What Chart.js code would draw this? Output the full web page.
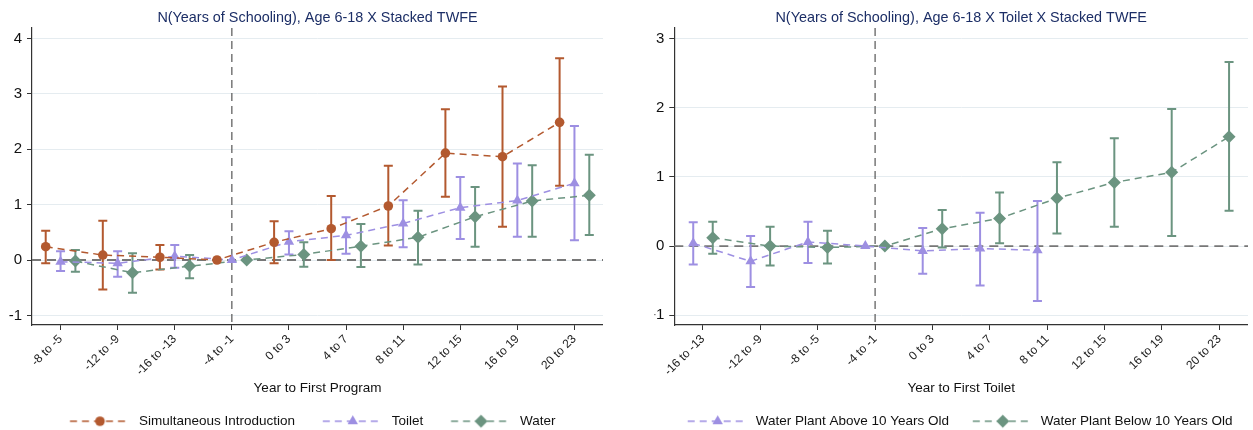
<!DOCTYPE html>
<html>
<head>
<meta charset="utf-8">
<script src="https://cdn.jsdelivr.net/npm/chart.js@4.4.1/dist/chart.umd.min.js"></script>
<style>
  html, body { margin: 0; padding: 0; background: #fff; overflow: hidden; width: 1253px; height: 430px; }
  canvas { position: absolute; top: 0; }
  #programChart { left: 0; }
  #toiletChart { left: 630px; }
</style>
</head>
<body>
<canvas id="programChart" width="603" height="438"></canvas>
<canvas id="toiletChart" width="618" height="438"></canvas>
<script>
// ---- Panel 1: event-time bins and estimates by program type ----
const programBins = ["-8 to -5", "-12 to -9", "-16 to -13", "-4 to -1", "0 to 3",
                     "4 to 7", "8 to 11", "12 to 15", "16 to 19", "20 to 23"];

const simultaneousEst  = [0.24, 0.09, 0.05, 0, 0.32, 0.565, 0.975, 1.93, 1.865, 2.485];
const simultaneousLow  = [-0.06, -0.53, -0.17, null, -0.06, 0.0, 0.26, 1.14, 0.60, 1.34];
const simultaneousHigh = [0.53, 0.71, 0.27, null, 0.70, 1.155, 1.70, 2.72, 3.13, 3.64];

const toiletEst  = [-0.03, -0.06, 0.07, 0, 0.33, 0.445, 0.66, 0.945, 1.075, 1.385];
const toiletLow  = [-0.20, -0.30, -0.14, null, 0.10, 0.115, 0.23, 0.38, 0.42, 0.355];
const toiletHigh = [0.16, 0.16, 0.27, null, 0.52, 0.77, 1.08, 1.50, 1.74, 2.42];

const waterEst  = [-0.02, -0.23, -0.11, 0, 0.10, 0.25, 0.41, 0.78, 1.065, 1.17];
const waterLow  = [-0.21, -0.59, -0.33, null, -0.12, -0.125, -0.08, 0.24, 0.42, 0.45];
const waterHigh = [0.18, 0.12, 0.09, null, 0.32, 0.65, 0.89, 1.32, 1.71, 1.90];

// ---- Panel 2: event-time bins and estimates by water plant age ----
const toiletBins = ["-16 to -13", "-12 to -9", "-8 to -5", "-4 to -1", "0 to 3",
                    "4 to 7", "8 to 11", "12 to 15", "16 to 19", "20 to 23"];

const aboveTenEst  = [0.04, -0.22, 0.06, 0, -0.07, -0.035, -0.06, null, null, null];
const aboveTenLow  = [-0.265, -0.59, -0.245, null, -0.40, -0.57, -0.795, null, null, null];
const aboveTenHigh = [0.345, 0.145, 0.35, null, 0.26, 0.48, 0.65, null, null, null];

const belowTenEst  = [0.12, 0.0, -0.02, 0, 0.25, 0.40, 0.69, 0.92, 1.065, 1.58];
const belowTenLow  = [-0.11, -0.28, -0.25, null, -0.02, 0.04, 0.18, 0.28, 0.145, 0.51];
const belowTenHigh = [0.35, 0.28, 0.22, null, 0.52, 0.775, 1.21, 1.556, 1.98, 2.66];

const yTickStep = 1;

// ---- Styling ----
const FONT = "'Liberation Sans', Arial, Helvetica, sans-serif";
const NAVY = '#1c2e66';
const ORANGE = '#b3592f';
const PURPLE = '#9d8fe2';
const GREEN = '#6b9480';

function markerPath(g, style, r, x, y) {
  g.beginPath();
  if (style === 'circle') {
    g.arc(x, y, r, 0, Math.PI * 2);
  } else if (style === 'triangle') {
    g.moveTo(x, y - r);
    g.lineTo(x + r * Math.sin(Math.PI / 3), y + r * 0.5);
    g.lineTo(x - r * Math.sin(Math.PI / 3), y + r * 0.5);
  } else {
    g.moveTo(x - r, y); g.lineTo(x, y - r); g.lineTo(x + r, y); g.lineTo(x, y + r);
  }
  g.closePath();
}

// Small "dashed line + marker" key used as the legend symbol
function legendSymbol(color, style, r, boxW, markerX) {
  const c = document.createElement('canvas');
  c.width = boxW; c.height = 16;
  const g = c.getContext('2d');
  g.strokeStyle = color; g.lineWidth = 1.5; g.setLineDash([7, 5]);
  g.beginPath(); g.moveTo(markerX - 30, 8); g.lineTo(markerX + 30, 8); g.stroke();
  g.setLineDash([]);
  g.fillStyle = color;
  markerPath(g, style, r, markerX, 8);
  g.fill();
  return c;
}

// Zero line and event-time line
const refLines = {
  id: 'refLines',
  beforeDatasetsDraw(chart, args, opts) {
    const { ctx, chartArea: a, scales: { x, y } } = chart;
    ctx.save();
    const y0 = y.getPixelForValue(0);
    ctx.strokeStyle = '#777'; ctx.lineWidth = 1.8; ctx.setLineDash([9, 6]);
    ctx.beginPath(); ctx.moveTo(a.left, y0); ctx.lineTo(a.right, y0); ctx.stroke();
    const xv = x.getPixelForValue(opts.eventAt);
    ctx.strokeStyle = '#555'; ctx.lineWidth = 1.2; ctx.setLineDash([8, 5]);
    ctx.beginPath(); ctx.moveTo(xv, a.top); ctx.lineTo(xv, a.bottom); ctx.stroke();
    ctx.restore();
  }
};

// Confidence intervals with caps
const errorBars = {
  id: 'errorBars',
  beforeDatasetsDraw(chart) {
    const { ctx, scales: { x, y } } = chart;
    chart.data.datasets.forEach(ds => {
      ctx.save();
      ctx.strokeStyle = ds.borderColor;
      ctx.lineWidth = 2;
      const cap = 4.5;
      ds.ciLow.forEach((lo, i) => {
        const hi = ds.ciHigh[i];
        if (lo == null || hi == null) return;
        const px = x.getPixelForValue(i + ds.xShift);
        const y1 = y.getPixelForValue(lo), y2 = y.getPixelForValue(hi);
        ctx.beginPath();
        ctx.moveTo(px, y1); ctx.lineTo(px, y2);
        ctx.moveTo(px - cap, y1); ctx.lineTo(px + cap, y1);
        ctx.moveTo(px - cap, y2); ctx.lineTo(px + cap, y2);
        ctx.stroke();
      });
      ctx.restore();
    });
  }
};

function buildPanel(canvas, cfg) {
  return new Chart(canvas, {
    type: 'line',
    data: {
      datasets: cfg.series.map(s => ({
        label: s.label,
        data: s.est.map((v, i) => ({ x: i + s.shift, y: v })),
        borderColor: s.color,
        backgroundColor: s.color,
        borderWidth: 1.5,
        borderDash: [7, 5],
        pointStyle: s.marker,
        pointRadius: s.radius,
        pointHoverRadius: s.radius,
        pointBorderWidth: 0,
        pointBackgroundColor: s.color,
        tension: 0,
        ciLow: s.low,
        ciHigh: s.high,
        xShift: s.shift,
        legendImage: legendSymbol(s.color, s.marker, s.radius, cfg.boxW, cfg.markerX)
      }))
    },
    options: {
      responsive: false,
      animation: false,
      devicePixelRatio: 1,
      events: [],
      layout: { autoPadding: false, padding: { left: cfg.padLeft, right: 0, top: 0, bottom: 0 } },
      plugins: {
        title: {
          display: true, text: cfg.title, color: NAVY, fullSize: false,
          font: { family: FONT, size: 14.4, weight: 'normal' },
          padding: { top: 8.9, bottom: 1.8 }
        },
        legend: {
          position: 'bottom',
          labels: {
            usePointStyle: true,
            pointStyleWidth: cfg.boxW,
            padding: 6,
            color: '#111',
            font: { family: FONT, size: 13.5 },
            generateLabels(chart) {
              const items = Chart.defaults.plugins.legend.labels.generateLabels(chart);
              items.forEach(it => { it.pointStyle = chart.data.datasets[it.datasetIndex].legendImage; });
              return items;
            }
          }
        },
        tooltip: { enabled: false },
        refLines: { eventAt: cfg.eventAt }
      },
      scales: {
        x: {
          type: 'linear', min: -0.5, max: 9.5,
          afterBuildTicks(s) { s.ticks = cfg.bins.map((_, i) => ({ value: i })); },
          afterFit(s) { s.height = 83.5; },
          ticks: {
            autoSkip: false,
            minRotation: 45, maxRotation: 45, padding: 2,
            color: '#222', font: { family: FONT, size: 12 },
            callback: (v, i) => cfg.bins[i]
          },
          grid: { drawOnChartArea: false, drawTicks: true, tickLength: 5, tickColor: '#333', tickWidth: 1 },
          border: { color: '#333', width: 1.2 },
          title: {
            display: true, text: cfg.xTitle, color: '#111',
            font: { family: FONT, size: 13.5 },
            padding: { top: 0, bottom: 12.4 }
          }
        },
        y: {
          min: cfg.yMin, max: cfg.yMax,
          afterFit(s) { s.width = cfg.yWidth; },
          ticks: {
            stepSize: yTickStep, includeBounds: false, padding: 5,
            color: '#111', font: { family: FONT, size: 15 }
          },
          grid: { color: '#e5ecf0', lineWidth: 1, tickColor: '#333', tickLength: 5 },
          border: { color: '#333', width: 1.2 }
        }
      }
    },
    plugins: [refLines, errorBars]
  });
}

buildPanel(document.getElementById('programChart'), {
  title: 'N(Years of Schooling), Age 6-18 X Stacked TWFE',
  xTitle: 'Year to First Program',
  bins: programBins,
  eventAt: 3,
  yMin: -1.173, yMax: 4.188,
  padLeft: 0.75, yWidth: 31.25,
  boxW: 84, markerX: 51.75,
  series: [
    { label: 'Simultaneous Introduction', est: simultaneousEst, low: simultaneousLow, high: simultaneousHigh,
      color: ORANGE, marker: 'circle', radius: 4.8, shift: -0.26 },
    { label: 'Toilet', est: toiletEst, low: toiletLow, high: toiletHigh,
      color: PURPLE, marker: 'triangle', radius: 6, shift: 0 },
    { label: 'Water', est: waterEst, low: waterLow, high: waterHigh,
      color: GREEN, marker: 'rectRot', radius: 6.5, shift: 0.26 }
  ]
});

buildPanel(document.getElementById('toiletChart'), {
  title: 'N(Years of Schooling), Age 6-18 X Toilet X Stacked TWFE',
  xTitle: 'Year to First Toilet',
  bins: toiletBins,
  eventAt: 3,
  yMin: -1.14, yMax: 3.15,
  padLeft: 24.5, yWidth: 19.8,
  boxW: 79, markerX: 47.75,
  series: [
    { label: 'Water Plant Above 10 Years Old', est: aboveTenEst, low: aboveTenLow, high: aboveTenHigh,
      color: PURPLE, marker: 'triangle', radius: 6, shift: -0.17 },
    { label: 'Water Plant Below 10 Years Old', est: belowTenEst, low: belowTenLow, high: belowTenHigh,
      color: GREEN, marker: 'rectRot', radius: 6.5, shift: 0.17 }
  ]
});
</script>
</body>
</html>
